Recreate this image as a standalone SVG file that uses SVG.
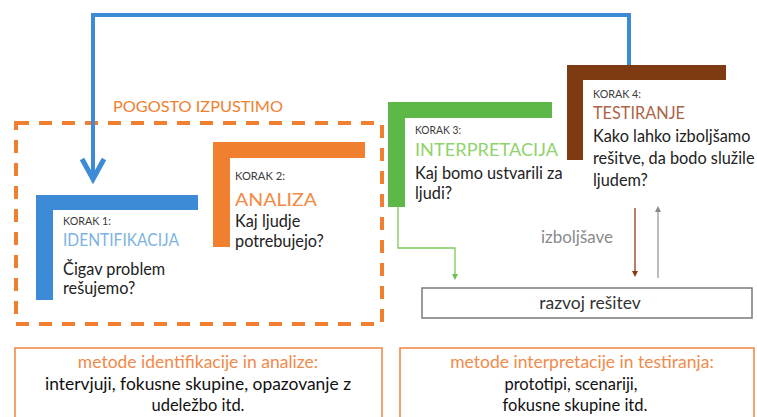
<svg xmlns="http://www.w3.org/2000/svg" width="757" height="417" viewBox="0 0 757 417">
<defs>
<style>
text{font-family:Lato,"Open Sans","Liberation Sans",sans-serif;}
.k{font-size:10.5px;fill:#3a3a3a;}
.t{font-size:18px;}
.q{font-size:16.3px;fill:#222;}
.box{fill:none;stroke:#f08a4b;stroke-width:1.6;}
.h{font-size:17.5px;fill:#f08a4b;}
.b{font-size:16.5px;fill:#111;}
</style>
<marker id="ag" markerWidth="6" markerHeight="6" refX="3" refY="3" orient="auto" markerUnits="userSpaceOnUse"><path d="M0,0 L6,3 L0,6 z" fill="#6fbf4a"/></marker>
<marker id="ab" markerWidth="6" markerHeight="6" refX="3" refY="3" orient="auto" markerUnits="userSpaceOnUse"><path d="M0,0 L6,3 L0,6 z" fill="#8a3b14"/></marker>
<marker id="ay" markerWidth="6" markerHeight="6" refX="3" refY="3" orient="auto" markerUnits="userSpaceOnUse"><path d="M0,0 L6,3 L0,6 z" fill="#888"/></marker>
</defs>
<rect width="757" height="417" fill="#fff"/>

<g id="omitted">
<rect x="16" y="123" width="366" height="201" fill="none" stroke="#f07f30" stroke-width="4" stroke-dasharray="13,10"/>
<text x="113" y="112" font-size="15" fill="#f07f30" textLength="170" lengthAdjust="spacingAndGlyphs">POGOSTO IZPUSTIMO</text>
</g>

<g id="connectors">
<polyline points="93,178 93,15 629,15 629,66" fill="none" stroke="#3d8ad6" stroke-width="4"/>
<polyline points="82,159 93,179 104,159" fill="none" stroke="#3d8ad6" stroke-width="5" stroke-linejoin="miter"/>
<polyline points="398,207 398,248 455,248 455,277" fill="none" stroke="#7cc95a" stroke-width="1.3" marker-end="url(#ag)"/>
<line x1="635" y1="208" x2="635" y2="274" stroke="#8a3b14" stroke-width="1.3" marker-end="url(#ab)"/>
<line x1="658" y1="278" x2="658" y2="209" stroke="#999" stroke-width="1.3" marker-end="url(#ay)"/>
<text x="577" y="243" font-size="17" fill="#8a8a8a" text-anchor="middle">izboljšave</text>
</g>

<g id="step1">
<path d="M36,195 H198 V210 H53 V300 H36 Z" fill="#3d8ad6"/>
<text class="k" x="63" y="225" textLength="48" lengthAdjust="spacingAndGlyphs">KORAK 1:</text>
<text class="t" x="63" y="246" fill="#7db3e3" textLength="116" lengthAdjust="spacingAndGlyphs">IDENTIFIKACIJA</text>
<text class="q" x="63" y="275">Čigav problem</text>
<text class="q" x="63" y="294">rešujemo?</text>
</g>

<g id="step2">
<path d="M213,142 H365 V158 H230 V247 H213 Z" fill="#f07f30"/>
<text class="k" x="235" y="180" textLength="50" lengthAdjust="spacingAndGlyphs">KORAK 2:</text>
<text class="t" x="235" y="206" fill="#f28a45" textLength="82" lengthAdjust="spacingAndGlyphs">ANALIZA</text>
<text class="q" x="235" y="227">Kaj ljudje</text>
<text class="q" x="235" y="247">potrebujejo?</text>
</g>

<g id="step3">
<path d="M388,102 H552 V118 H405 V207 H388 Z" fill="#5db848"/>
<text class="k" x="415" y="134" textLength="46" lengthAdjust="spacingAndGlyphs">KORAK 3:</text>
<text class="t" x="415" y="156" fill="#8fd36c" textLength="143" lengthAdjust="spacingAndGlyphs">INTERPRETACIJA</text>
<text class="q" x="415" y="179">Kaj bomo ustvarili za</text>
<text class="q" x="415" y="199">ljudi?</text>
</g>

<g id="step4">
<path d="M567,65 H726 V80 H583 V160 H567 Z" fill="#7e3a12"/>
<text class="k" x="593" y="98" textLength="48" lengthAdjust="spacingAndGlyphs">KORAK 4:</text>
<text class="t" x="593" y="119" fill="#ad6446" textLength="92" lengthAdjust="spacingAndGlyphs">TESTIRANJE</text>
<text class="q" x="593" y="142">Kako lahko izboljšamo</text>
<text class="q" x="593" y="164">rešitve, da bodo služile</text>
<text class="q" x="593" y="186">ljudem?</text>
</g>

<g id="development">
<rect x="422" y="288" width="330" height="30" fill="#fff" stroke="#7a7a7a" stroke-width="1.5"/>
<text x="590" y="309" font-size="17.5" fill="#333" text-anchor="middle">razvoj rešitev</text>
</g>

<g id="methods1">
<rect class="box" x="15" y="348" width="367" height="80"/>
<text class="h" x="198" y="368" text-anchor="middle">metode identifikacije in analize:</text>
<text class="b" x="198" y="390" text-anchor="middle" textLength="306" lengthAdjust="spacingAndGlyphs">intervjuji, fokusne skupine, opazovanje z</text>
<text class="b" x="198" y="411" text-anchor="middle">udeležbo itd.</text>
</g>

<g id="methods2">
<rect class="box" x="400" y="348" width="354" height="80"/>
<text class="h" x="582" y="368" text-anchor="middle">metode interpretacije in testiranja:</text>
<text class="b" x="571" y="390" text-anchor="middle">prototipi, scenariji,</text>
<text class="b" x="575" y="411" text-anchor="middle">fokusne skupine itd.</text>
</g>
</svg>
